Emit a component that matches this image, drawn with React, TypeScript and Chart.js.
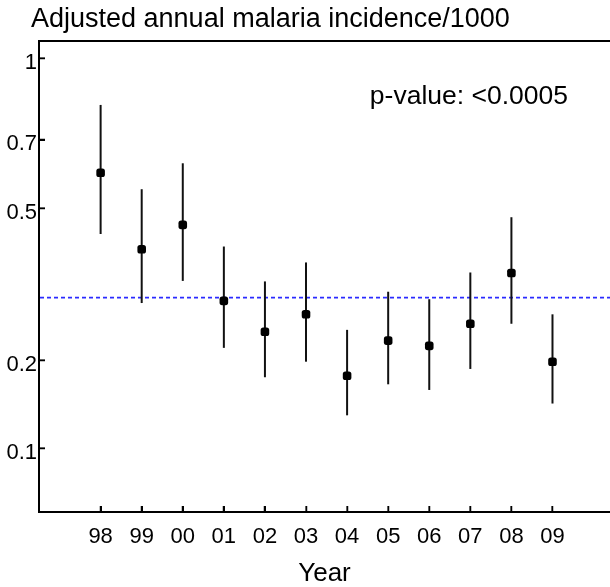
import React, { useEffect, useRef } from 'react';
import { Chart, registerables, LinearScale } from 'chart.js';

Chart.register(...registerables);

// ---- data ----
const years = ['98', '99', '00', '01', '02', '03', '04', '05', '06', '07', '08', '09'];
const incidence = [0.598, 0.401, 0.458, 0.296, 0.243, 0.272, 0.179, 0.229, 0.221, 0.256, 0.350, 0.198];
const lowerCI = [0.436, 0.292, 0.334, 0.218, 0.177, 0.198, 0.132, 0.168, 0.161, 0.188, 0.256, 0.145];
const upperCI = [0.819, 0.551, 0.626, 0.407, 0.333, 0.372, 0.246, 0.313, 0.299, 0.351, 0.477, 0.272];
const yTickValues = [0.1, 0.2, 0.5, 0.7, 1];
const referenceValue = 0.302;
const TITLE = 'Adjusted annual malaria incidence/1000';
const X_TITLE = 'Year';
const P_VALUE_TEXT = 'p-value: <0.0005';

const X_MIN = -1.5;
const X_MAX = 12.4;
const Y_MIN = 0.0533;
const Y_MAX = 1.072;

const FONT = "'Liberation Sans', Arial, Helvetica, sans-serif";
const TICK_LEN = 6;

// cube-root value scale
class CubeRootScale extends LinearScale {
  static id = 'cuberoot';
  static defaults = LinearScale.defaults;
  getPixelForValue(value: number) {
    const a = Math.cbrt(this.min);
    const b = Math.cbrt(this.max);
    return this.getPixelForDecimal((Math.cbrt(value) - a) / (b - a));
  }
  getValueForPixel(pixel: number) {
    const a = Math.cbrt(this.min);
    const b = Math.cbrt(this.max);
    const t = a + this.getDecimalForPixel(pixel) * (b - a);
    return t * t * t;
  }
}
Chart.register(CubeRootScale);

const overlayPlugin = {
  id: 'overlay',
  beforeDatasetsDraw(chart: any) {
    const { ctx, chartArea } = chart;
    const x = chart.scales.x;
    const y = chart.scales.y;
    ctx.save();
    // inward tick marks
    ctx.strokeStyle = '#000';
    ctx.lineWidth = 1.5;
    x.ticks.forEach((_: any, i: number) => {
      const px = Math.round(x.getPixelForTick(i)) + 0.25;
      ctx.beginPath();
      ctx.moveTo(px, chartArea.bottom);
      ctx.lineTo(px, chartArea.bottom - TICK_LEN);
      ctx.stroke();
    });
    y.ticks.forEach((_: any, i: number) => {
      const py = Math.round(y.getPixelForTick(i)) + 0.25;
      ctx.beginPath();
      ctx.moveTo(chartArea.left, py);
      ctx.lineTo(chartArea.left + TICK_LEN, py);
      ctx.stroke();
    });
    // reference line
    const ry = y.getPixelForValue(referenceValue);
    ctx.strokeStyle = '#2b2bff';
    ctx.lineWidth = 1.8;
    ctx.setLineDash([4, 3]);
    ctx.beginPath();
    ctx.moveTo(chartArea.left + 1, ry);
    ctx.lineTo(chartArea.right, ry);
    ctx.stroke();
    ctx.setLineDash([]);
    // confidence intervals
    ctx.strokeStyle = '#111';
    ctx.lineWidth = 2;
    years.forEach((_, i) => {
      const px = x.getPixelForValue(i);
      ctx.beginPath();
      ctx.moveTo(px, y.getPixelForValue(lowerCI[i]));
      ctx.lineTo(px, y.getPixelForValue(upperCI[i]));
      ctx.stroke();
    });
    ctx.restore();
  },
  afterDraw(chart: any) {
    const { ctx, chartArea } = chart;
    ctx.save();
    ctx.fillStyle = '#000';
    ctx.textAlign = 'left';
    ctx.textBaseline = 'alphabetic';
    // chart title
    ctx.font = `27px ${FONT}`;
    ctx.fillText(TITLE, chartArea.left - 8, chartArea.top - 14);
    // p-value annotation
    ctx.font = `26.5px ${FONT}`;
    ctx.textAlign = 'right';
    ctx.fillText(P_VALUE_TEXT, chartArea.right - 42, chartArea.top + 63);
    ctx.restore();
  },
};

export default function App() {
  const ref = useRef<HTMLCanvasElement | null>(null);
  useEffect(() => {
    if (!ref.current) return;
    const chart = new Chart(ref.current, {
      type: 'scatter',
      data: {
        datasets: [
          {
            data: years.map((_, i) => ({ x: i, y: incidence[i] })),
            xAxisID: 'x',
            yAxisID: 'y',
            pointStyle: 'rectRounded',
            pointRadius: 5,
            pointBackgroundColor: '#000',
            pointBorderWidth: 0,
            showLine: false,
          },
        ],
      },
      options: {
        animation: false,
        responsive: false,
        layout: { autoPadding: false, padding: { left: 0, right: 0, top: 41, bottom: 0 } },
        plugins: {
          legend: { display: false },
          tooltip: { enabled: false },
          title: { display: false },
        },
        scales: {
          x: {
            type: 'linear',
            position: 'bottom',
            min: X_MIN,
            max: X_MAX,
            afterBuildTicks: (s: any) => {
              s.ticks = years.map((_, i) => ({ value: i }));
            },
            afterFit: (s: any) => {
              s.height = 75;
            },
            ticks: {
              callback: (v: any) => years[v],
              font: { family: FONT, size: 22 },
              color: '#000',
              padding: 18,
              autoSkip: false,
              maxRotation: 0,
            },
            grid: {
              display: true,
              drawOnChartArea: false,
              drawTicks: true,
              tickLength: -6,
              tickWidth: 1.5,
              tickColor: '#000',
            },
            border: { display: true, width: 2, color: '#000' },
            title: {
              display: true,
              text: X_TITLE,
              color: '#000',
              font: { family: FONT, size: 26, lineHeight: 1 },
              padding: { top: 0, bottom: 0 },
            },
          },
          xTop: {
            type: 'linear',
            axis: 'x',
            position: 'top',
            min: X_MIN,
            max: X_MAX,
            ticks: { display: false },
            grid: { display: false },
            border: { display: true, width: 2, color: '#000' },
            afterFit: (s: any) => {
              s.height = 0;
            },
          },
          y: {
            type: 'cuberoot',
            position: 'left',
            min: Y_MIN,
            max: Y_MAX,
            bounds: 'data',
            afterBuildTicks: (s: any) => {
              s.ticks = yTickValues.map((v) => ({ value: v }));
            },
            afterFit: (s: any) => {
              s.width = 39;
            },
            ticks: {
              callback: (v: any) => String(v),
              font: { family: FONT, size: 22 },
              color: '#000',
              padding: 8,
              labelOffset: 4.5,
              autoSkip: false,
            },
            grid: {
              display: true,
              drawOnChartArea: false,
              drawTicks: true,
              tickLength: -6,
              tickWidth: 1.5,
              tickColor: '#000',
            },
            border: { display: true, width: 2, color: '#000' },
          },
        },
      } as any,
      plugins: [overlayPlugin],
    });
    return () => chart.destroy();
  }, []);
  return (
    <div style={{ position: 'absolute', left: 0, top: 0, width: 610, height: 587, background: '#fff' }}>
      <canvas ref={ref} width={610} height={587} style={{ display: 'block' }} />
    </div>
  );
}
